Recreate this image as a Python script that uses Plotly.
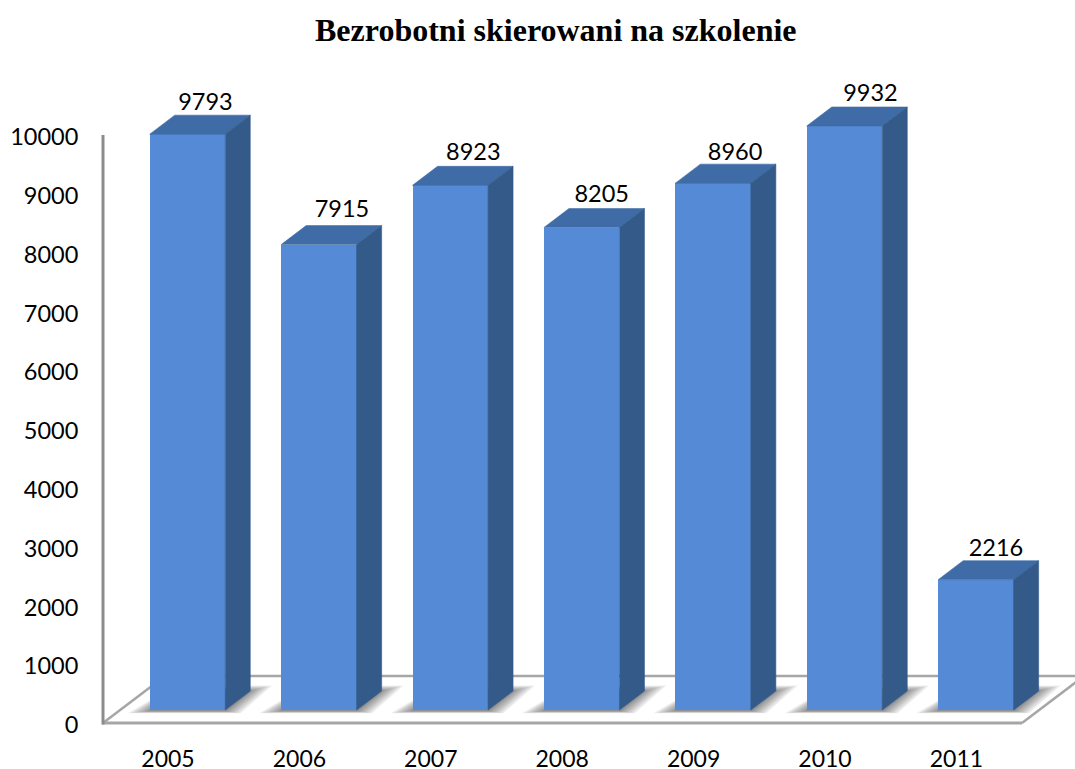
import plotly.graph_objects as go

# Data
years = ["2005", "2006", "2007", "2008", "2009", "2010", "2011"]
values = [9793, 7915, 8923, 8205, 8960, 9932, 2216]
y_ticks = [0, 1000, 2000, 3000, 4000, 5000, 6000, 7000, 8000, 9000, 10000]

# Scale helpers: pixels of the page per axis unit
W, H = 1075, 769
PX_X = 131.4           # one category step
PX_Y = 0.0588          # one value unit
FIRST_CENTER = 187.5   # page x of first bar centre
AXIS_X, AXIS_Y = 103, 723          # where the value axis and the zero line sit
PLOT_L, PLOT_B, PLOT_T = 95, 731, 60
dx = lambda p: p / PX_X
dy = lambda p: p / PX_Y
xr = lambda p: (p - FIRST_CENTER) / PX_X
yr = lambda p: (AXIS_Y - p) / PX_Y

BAR_W = dx(75.5)
DEPTH_X, DEPTH_Y = dx(25), dy(19)
BASE = dy(13)

FRONT, TOP, SIDE = "#558ad6", "#3f6ca6", "#345a8a"
LINE_D, LINE_L = "#8c8c8c", "#a6a6a6"

# Label offsets (page pixels) relative to the front-face centre / back top edge
label_dx = [18, 23, 23, 20, 22, 26, 20]
label_dy = [11, 14, 12, 12, 10, 12, 11]

fig = go.Figure()
idx = list(range(len(years)))

fig.add_trace(go.Bar(x=idx, y=values, base=BASE, width=BAR_W, marker=dict(color=FRONT, line=dict(width=0)),
                     hoverinfo="x+y", showlegend=False))

for i, v in zip(idx, values):
    L, R = i - BAR_W / 2, i + BAR_W / 2
    t, b = v + BASE, BASE
    fig.add_trace(go.Scatter(x=[L, L + DEPTH_X, R + DEPTH_X, R, L], y=[t, t + DEPTH_Y, t + DEPTH_Y, t, t],
                             mode="lines", fill="toself", fillcolor=TOP, line=dict(width=0.6, color=TOP),
                             hoverinfo="skip", showlegend=False))
    fig.add_trace(go.Scatter(x=[R, R + DEPTH_X, R + DEPTH_X, R, R], y=[t, t + DEPTH_Y, b + DEPTH_Y, b, t],
                             mode="lines", fill="toself", fillcolor=SIDE, line=dict(width=0.6, color=SIDE),
                             hoverinfo="skip", showlegend=False))

# Value labels
fig.add_trace(go.Scatter(
    x=[i + dx(o) for i, o in zip(idx, label_dx)],
    y=[v + BASE + DEPTH_Y + dy(o) for v, o in zip(values, label_dy)],
    mode="text", text=[str(v) for v in values], textposition="middle center",
    textfont=dict(family="Lato", size=23.5, color="#000000"),
    hoverinfo="skip", showlegend=False))

# Y axis wall line and floor
shapes = []
def seg(x0, y0, x1, y1, c, w):
    shapes.append(dict(type="line", xref="x", yref="y", x0=xr(x0), y0=yr(y0), x1=xr(x1), y1=yr(y1),
                       line=dict(color=c, width=w), layer="below"))

seg(165, 676, 1075, 676, LINE_L, 2.5)
seg(103, 723, 165, 676, LINE_L, 2.5)
seg(1022, 723, 1084, 676, LINE_L, 2.5)
seg(102, 723, 1022, 723, LINE_L, 3)
seg(103, 135, 103, 724.5, LINE_D, 3)

# Soft shadows on the floor
for i in idx:
    L, R = i - BAR_W / 2, i + BAR_W / 2
    for g in [22, 19, 16, 13, 10, 7, 4, 2]:
        pts = [(L - dx(g), BASE - dy(1 + g * 0.1)),
               (R + dx(g * 0.7), BASE - dy(1 + g * 0.1)),
               (R + DEPTH_X + dx(g), BASE + DEPTH_Y + dy(g * 0.25)),
               (L + DEPTH_X, BASE + DEPTH_Y + dy(g * 0.25))]
        path = "M " + " L ".join(f"{a:.4f},{c:.2f}" for a, c in pts) + " Z"
        shapes.append(dict(type="path", xref="x", yref="y", path=path,
                           fillcolor="rgba(0,0,0,0.065)", line=dict(width=0), layer="below"))

fig.update_layout(
    width=W, height=H, autosize=False,
    margin=dict(l=PLOT_L, r=0, t=PLOT_T, b=H - PLOT_B, pad=0, autoexpand=False),
    paper_bgcolor="white", plot_bgcolor="white",
    showlegend=False, shapes=shapes, bargap=0,
    title=dict(text="<b>Bezrobotni skierowani na szkolenie</b>", x=0.517, xanchor="center",
               y=0.961, yanchor="middle", font=dict(family="Liberation Serif", size=32, color="#000000")),
    xaxis=dict(range=[xr(PLOT_L), xr(W)], tickmode="array", automargin=False,
               tickvals=[i - dx(19.5) for i in idx], ticktext=years, showgrid=False, zeroline=False,
               showline=False, ticks="outside", ticklen=7, tickcolor="rgba(0,0,0,0)",
               tickfont=dict(family="Lato", size=23, color="#000000")),
    yaxis=dict(range=[yr(PLOT_B), yr(PLOT_T)], tickmode="array", tickvals=[t - dy(2) for t in y_ticks],
               automargin=False, ticktext=[str(t) for t in y_ticks], showgrid=False, zeroline=False,
               showline=False, ticks="outside", ticklen=11, tickcolor="rgba(0,0,0,0)",
               tickfont=dict(family="Lato", size=23.5, color="#000000")),
)

fig.write_html("out.html", config=dict(displayModeBar=False), post_script="document.body.style.margin='0';")
